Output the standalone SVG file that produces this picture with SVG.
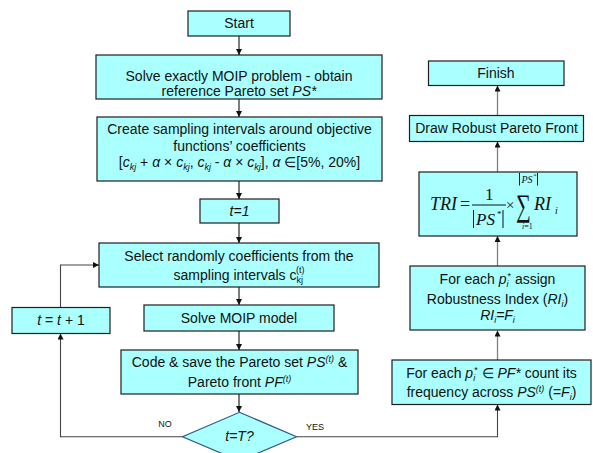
<svg xmlns="http://www.w3.org/2000/svg" width="593" height="453" viewBox="0 0 593 453">
  <defs>
    <marker id="arrow" viewBox="0 0 8 8" refX="8" refY="4" markerWidth="6" markerHeight="6" markerUnits="userSpaceOnUse" orient="auto">
      <path d="M0,0 L8,4 L0,8 z" fill="#111"/>
    </marker>
    <style>
      .box { fill: #aaffff; stroke: #1e1e1e; stroke-width: 1.2; }
      .dia { fill: #aaffff; stroke: #2e5a8a; stroke-width: 1.2; }
      .t { font-family: "Liberation Sans", Arial, sans-serif; font-size: 14px; fill: #111; text-anchor: middle; }
      .lbl { font-family: "Liberation Sans", Arial, sans-serif; font-size: 9px; fill: #111; text-anchor: middle; }
      .m { font-family: "Liberation Serif", "Times New Roman", serif; fill: #111; }
      .i { font-style: italic; }
      .s { font-size: 9px; }
      .bar { stroke: #111; stroke-width: 1; }
      .main { fill: none; stroke: #111; stroke-width: 1.1; }
      .loop { fill: none; stroke: #444; stroke-width: 1.1; }
      .side { fill: none; stroke: #808080; stroke-width: 1.3; }
    </style>
  </defs>

  <!-- connectors -->
  <g id="connectors">
    <path class="main" d="M239,36 V55" marker-end="url(#arrow)"/>
    <path class="main" d="M239,99 V117" marker-end="url(#arrow)"/>
    <path class="main" d="M239,181 V199" marker-end="url(#arrow)"/>
    <path class="main" d="M239,223 V243" marker-end="url(#arrow)"/>
    <path class="main" d="M239,287 V305" marker-end="url(#arrow)"/>
    <path class="main" d="M239,331 V350" marker-end="url(#arrow)"/>
    <path class="main" d="M239,394 V412" marker-end="url(#arrow)"/>
    <path class="loop" d="M183,436.7 H60.5 V333.5" marker-end="url(#arrow)"/>
    <path class="loop" d="M60.5,307.5 V265 H99" marker-end="url(#arrow)"/>
    <path class="loop" d="M296.5,436.7 H497.5 V404.5" marker-end="url(#arrow)"/>
    <path class="side" d="M497.5,360 V330.5" marker-end="url(#arrow)"/>
    <path class="side" d="M497.5,266 V236" marker-end="url(#arrow)"/>
    <path class="side" d="M497.5,172 V141.5" marker-end="url(#arrow)"/>
    <path class="side" d="M497.5,115.5 V85.5" marker-end="url(#arrow)"/>
    <text class="lbl" x="165" y="427">NO</text>
    <text class="lbl" x="315" y="430">YES</text>
  </g>

  <g id="start">
    <rect class="box" x="188" y="11" width="102" height="25"/>
    <text class="t" x="239" y="28">Start</text>
  </g>

  <g id="solve-exact">
    <rect class="box" x="96" y="55" width="286" height="44"/>
    <text class="t" x="239" y="81">Solve exactly MOIP problem - obtain</text>
    <text class="t" x="239" y="96">reference Pareto set <tspan class="i">PS*</tspan></text>
  </g>

  <g id="sampling">
    <rect class="box" x="97" y="117" width="285" height="64"/>
    <text class="t" x="239.5" y="134">Create sampling intervals around objective</text>
    <text class="t" x="239.5" y="151">functions’ coefficients</text>
    <text class="t" x="239.5" y="167">[<tspan class="i">c</tspan><tspan class="i s" dy="3">kj</tspan><tspan dy="-3"> + </tspan><tspan class="i">α</tspan> × <tspan class="i">c</tspan><tspan class="i s" dy="3">kj</tspan><tspan dy="-3">, </tspan><tspan class="i">c</tspan><tspan class="i s" dy="3">kj</tspan><tspan dy="-3"> - </tspan><tspan class="i">α</tspan>  × <tspan class="i">c</tspan><tspan class="i s" dy="3">kj</tspan><tspan dy="-3">],  </tspan><tspan class="i">α</tspan> ∈[5%, 20%]</text>
  </g>

  <g id="init">
    <rect class="box" x="200" y="199" width="79" height="24"/>
    <text class="t i" x="239.5" y="216">t=1</text>
  </g>

  <g id="select">
    <rect class="box" x="99" y="243" width="280" height="44"/>
    <text class="t" x="239" y="261">Select randomly coefficients from the</text>
    <text class="t" x="239" y="280">sampling intervals c<tspan class="s" dy="3">kj</tspan><tspan class="s" dx="-7" dy="-10">(t)</tspan></text>
  </g>

  <g id="solve-model">
    <rect class="box" x="144" y="305" width="190" height="26"/>
    <text class="t" x="239" y="323">Solve MOIP model</text>
  </g>

  <g id="save">
    <rect class="box" x="121" y="350" width="237" height="44"/>
    <text class="t" x="239.5" y="367">Code &amp; save the Pareto set <tspan class="i">PS</tspan><tspan class="i s" dy="-5">(t)</tspan><tspan dy="5"> &amp;</tspan></text>
    <text class="t" x="239.5" y="387">Pareto front <tspan class="i">PF</tspan><tspan class="i s" dy="-5">(t)</tspan></text>
  </g>

  <g id="check">
    <polygon class="dia" points="239.5,412.3 296.5,436.7 239.5,461 182.5,436.7"/>
    <text class="t i" x="239.5" y="441">t=T?</text>
  </g>

  <g id="increment">
    <rect class="box" x="12" y="307.5" width="98" height="26"/>
    <text class="t" x="61" y="325"><tspan class="i">t</tspan> = <tspan class="i">t</tspan> + 1</text>
  </g>

  <g id="frequency">
    <rect class="box" x="392" y="360" width="199" height="44.5"/>
    <text class="t" x="491.5" y="378">For each <tspan class="i">p</tspan><tspan class="i s" dy="3">i</tspan><tspan class="s" dx="-1" dy="-8">*</tspan><tspan dy="5"> ∈ </tspan><tspan class="i">PF*</tspan> count its</text>
    <text class="t" x="491.5" y="397">frequency across <tspan class="i">PS</tspan><tspan class="i s" dy="-5">(t)</tspan><tspan dy="5"> (=</tspan><tspan class="i">F</tspan><tspan class="i s" dy="3">i</tspan><tspan dy="-3">)</tspan></text>
  </g>

  <g id="robustness">
    <rect class="box" x="410" y="266" width="175" height="64"/>
    <text class="t" x="497.5" y="284">For each <tspan class="i">p</tspan><tspan class="i s" dy="3">i</tspan><tspan class="s" dx="-1" dy="-8">*</tspan><tspan dy="5"> assign</tspan></text>
    <text class="t" x="497.5" y="304">Robustness Index  (<tspan class="i">RI</tspan><tspan class="i s" dy="3">i</tspan><tspan dy="-3">)</tspan></text>
    <text class="t" x="497.5" y="320"><tspan class="i">RI</tspan><tspan class="i s" dy="3">i</tspan><tspan class="i" dy="-3">=F</tspan><tspan class="i s" dy="3">i</tspan></text>
  </g>

  <g id="tri">
    <rect class="box" x="419" y="172" width="158" height="64"/>
    <!-- TRI = 1/|PS*| x sum_{i=1}^{|PS*|} RI_i -->
    <text class="m i" x="430" y="210" font-size="18">TRI</text>
    <text class="m" x="460" y="210" font-size="18">=</text>
    <text class="m" x="485" y="200" font-size="17">1</text>
    <line class="bar" x1="472" y1="205" x2="506" y2="205"/>
    <line class="bar" x1="473.5" y1="210" x2="473.5" y2="228"/>
    <line class="bar" x1="503" y1="210" x2="503" y2="228"/>
    <text class="m i" x="476" y="225" font-size="17">PS</text>
    <text class="m" x="497" y="217" font-size="9">*</text>
    <text class="m" x="506" y="210" font-size="15">×</text>
    <text class="m" transform="translate(516,216) scale(0.8,1.2)" font-size="26">∑</text>
    <line class="bar" x1="519.5" y1="173" x2="519.5" y2="185.5" stroke-width="0.9"/>
    <line class="bar" x1="537.5" y1="173" x2="537.5" y2="185.5" stroke-width="0.9"/>
    <text class="m i" x="521.5" y="182.5" font-size="10">PS</text>
    <text class="m" x="533.5" y="178" font-size="6">*</text>
    <text class="m" x="522" y="229" font-size="8"><tspan class="i">i</tspan>=1</text>
    <text class="m i" x="534" y="210" font-size="18">RI</text>
    <text class="m i" x="555" y="214" font-size="10">i</text>
  </g>

  <g id="draw">
    <rect class="box" x="409.5" y="115.5" width="174" height="26"/>
    <text class="t" x="496.5" y="133">Draw Robust Pareto Front</text>
  </g>

  <g id="finish">
    <rect class="box" x="428.5" y="61" width="135.5" height="24.5"/>
    <text class="t" x="496" y="78">Finish</text>
  </g>
</svg>
